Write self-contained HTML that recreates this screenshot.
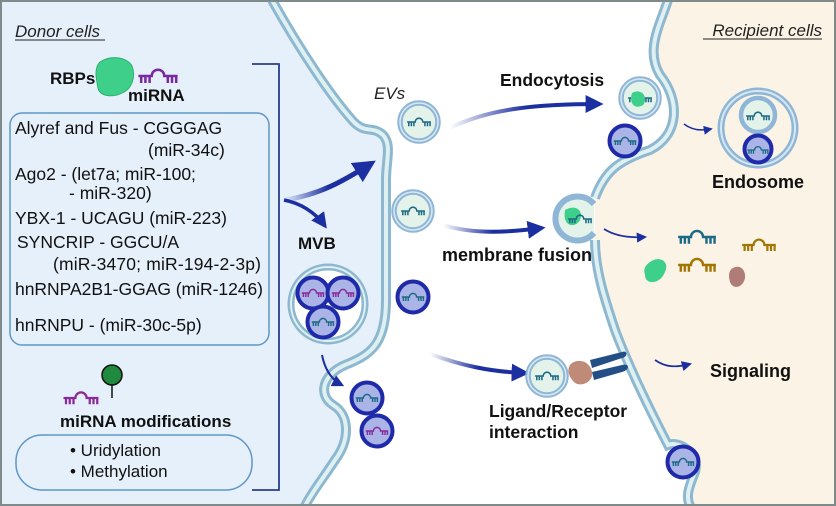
<!DOCTYPE html>
<html><head><meta charset="utf-8"><style>
html,body{margin:0;padding:0;background:#fff}
svg{display:block}
text{font-family:"Liberation Sans",sans-serif}
</style></head><body>
<svg width="836" height="506" viewBox="0 0 836 506" xmlns="http://www.w3.org/2000/svg">
<defs>
<linearGradient id="ga" x1="0" x2="1" y1="0" y2="0"><stop offset="0" stop-color="#1c2fa0" stop-opacity="0"/><stop offset="0.5" stop-color="#1c2fa0"/><stop offset="1" stop-color="#1c2fa0"/></linearGradient>
<marker id="ah" viewBox="0 0 10 10" refX="8" refY="5" markerWidth="4.5" markerHeight="4.5" orient="auto"><path d="M0,0 L10,5 L0,10 z" fill="#1c2fa0"/></marker>
<marker id="as" viewBox="0 0 10 10" refX="8" refY="5" markerWidth="6" markerHeight="6" orient="auto"><path d="M0,0 L10,5 L0,10 z" fill="#1c2fa0"/></marker>
<g id="mir"><path d="M-14,0 H-4.5 A4.5,4.5 0 0 1 4.5,0 H14 M-12,0 v5 M-9,0 v5 M-6,0 v5 M7,0 v5 M10,0 v5 M13,0 v5" fill="none" stroke-width="1.8"/></g>
<g id="ev"><circle r="19" fill="#e3f3ea" stroke="#8fb6d6" stroke-width="5.5"/><circle r="19" fill="none" stroke="#d7e8f2" stroke-width="1.5"/><use href="#mir" stroke="#1c6a86" transform="scale(0.85)"/></g>
<g id="dv"><circle r="15.5" fill="#aab4e6" stroke="#1f2aa8" stroke-width="4"/><use href="#mir" stroke="#1c6a86" transform="scale(0.8)"/></g>
<g id="dvp"><circle r="15.5" fill="#aab4e6" stroke="#1f2aa8" stroke-width="4"/><use href="#mir" stroke="#8a2a9a" transform="scale(0.8)"/></g>
</defs>
<rect width="836" height="506" fill="#fff"/>
<path d="M272,0 C300,50 330,95 352,120 C365,135 372,125 383,135 C392,145 386,160 386,180 L386,300 C386,345 370,355 345,365 C322,375 318,395 333,405 C350,415 350,440 335,460 C322,480 312,492 305,506 L0,506 L0,0 Z" fill="#e6f0fb"/>
<path d="M272,0 C300,50 330,95 352,120 C365,135 372,125 383,135 C392,145 386,160 386,180 L386,300 C386,345 370,355 345,365 C322,375 318,395 333,405 C350,415 350,440 335,460 C322,480 312,492 305,506" fill="none" stroke="#8db8cf" stroke-width="10"/>
<path d="M272,0 C300,50 330,95 352,120 C365,135 372,125 383,135 C392,145 386,160 386,180 L386,300 C386,345 370,355 345,365 C322,375 318,395 333,405 C350,415 350,440 335,460 C322,480 312,492 305,506" fill="none" stroke="#def0f2" stroke-width="4"/>
<path d="M668,0 C660,25 645,50 660,75 C680,100 680,135 650,150 C620,160 605,170 595,198 L595,240 C595,270 605,300 615,330 C630,370 655,420 668,445 C680,440 700,455 695,472 C690,485 685,495 690,506 L836,506 L836,0 Z" fill="#fbf3e6"/>
<path d="M668,0 C660,25 645,50 660,75 C680,100 680,135 650,150 C620,160 605,170 595,198 M595,240 C595,270 605,300 615,330 C630,370 655,420 668,445 C680,440 700,455 695,472 C690,485 685,495 690,506" fill="none" stroke="#8db8cf" stroke-width="10"/>
<path d="M668,0 C660,25 645,50 660,75 C680,100 680,135 650,150 C620,160 605,170 595,198 M595,240 C595,270 605,300 615,330 C630,370 655,420 668,445 C680,440 700,455 695,472 C690,485 685,495 690,506" fill="none" stroke="#def0f2" stroke-width="4"/>
<rect x="1" y="1" width="834" height="504" fill="none" stroke="#7f8a8a" stroke-width="2"/>

<text x="15" y="37" font-size="17" font-style="italic" fill="#222">Donor cells</text>
<line x1="15" y1="40" x2="105" y2="40" stroke="#222" stroke-width="1"/>
<text x="822" y="36" font-size="17" font-style="italic" fill="#222" text-anchor="end">Recipient cells</text>
<line x1="703" y1="39" x2="822" y2="39" stroke="#222" stroke-width="1"/>

<text x="50" y="84" font-size="17" font-weight="bold" fill="#111">RBPs</text>
<path d="M100,62 C112,54 128,58 132,66 C136,76 132,88 124,92 C114,98 100,97 98,88 C96,78 94,68 100,62 Z" fill="#3ecf8a" stroke="#2bb070" stroke-width="1"/>
<g transform="translate(158,76) scale(1.4)"><use href="#mir" stroke="#7a2aa0"/></g>
<text x="128" y="101" font-size="17" font-weight="bold" fill="#111">miRNA</text>

<rect x="10" y="113" width="259" height="232" rx="12" fill="#e6f0fb" stroke="#5e97c4" stroke-width="1.5"/>
<g font-size="17.5" fill="#111">
<text x="15" y="134">Alyref and Fus - CGGGAG</text>
<text x="148" y="156">(miR-34c)</text>
<text x="15" y="180">Ago2 - (let7a; miR-100;</text>
<text x="69" y="199">- miR-320)</text>
<text x="15" y="224">YBX-1 - UCAGU (miR-223)</text>
<text x="17" y="248">SYNCRIP - GGCU/A</text>
<text x="53" y="270" textLength="208">(miR-3470; miR-194-2-3p)</text>
<text x="15" y="295" textLength="248">hnRNPA2B1-GGAG (miR-1246)</text>
<text x="15" y="331">hnRNPU - (miR-30c-5p)</text>
</g>
<path d="M252,64 H279 V490 H252" fill="none" stroke="#2a3e8a" stroke-width="1.8"/>

<g transform="translate(81,398) scale(1.25)"><use href="#mir" stroke="#8a2a9a"/></g>
<line x1="112" y1="398" x2="112" y2="384" stroke="#111" stroke-width="1.5"/>
<circle cx="112" cy="375" r="10" fill="#1f8a3d" stroke="#111" stroke-width="1.5"/>
<text x="60" y="427" font-size="17" font-weight="bold" fill="#111">miRNA  modifications</text>
<rect x="16" y="435" width="236" height="55" rx="26" fill="#e6f0fb" stroke="#5e97c4" stroke-width="1.5"/>
<text x="70" y="456" font-size="17" fill="#111">•  Uridylation</text>
<text x="70" y="477" font-size="17" fill="#111">•  Methylation</text>

<path d="M284,200 C320,195 345,180 372,163" fill="none" stroke="url(#ga)" stroke-width="5" marker-end="url(#ah)"/>
<path d="M284,200 C300,203 315,212 325,226" fill="none" stroke="#1c2fa0" stroke-width="3.5" marker-end="url(#ah)"/>
<path d="M322,355 C325,370 332,380 342,385" fill="none" stroke="#1c2fa0" stroke-width="2" marker-end="url(#as)"/>

<text x="374" y="99" font-size="17" font-style="italic" fill="#222">EVs</text>
<text x="298" y="249" font-size="17" font-weight="bold" fill="#111">MVB</text>

<circle cx="328" cy="304" r="37" fill="#fff" stroke="#8db8cf" stroke-width="7"/>
<circle cx="328" cy="304" r="37" fill="none" stroke="#def0f2" stroke-width="2"/>
<use href="#dvp" x="313" y="293"/>
<use href="#dvp" x="343" y="293"/>
<use href="#dv" x="323" y="322"/>
<use href="#dv" x="367" y="398"/>
<use href="#dvp" x="377" y="431"/>

<use href="#ev" x="419" y="122"/>
<use href="#ev" x="413" y="211"/>
<use href="#dv" x="413" y="297"/>

<path d="M450,128 C490,108 540,104 600,104" fill="none" stroke="url(#ga)" stroke-width="4" marker-end="url(#ah)"/>
<path d="M443,225 C475,235 510,232 542,228" fill="none" stroke="url(#ga)" stroke-width="4" marker-end="url(#ah)"/>
<path d="M430,354 C460,365 490,372 526,373" fill="none" stroke="url(#ga)" stroke-width="4" marker-end="url(#ah)"/>

<text x="500" y="86" font-size="17.5" font-weight="bold" fill="#111">Endocytosis</text>
<text x="442" y="261" font-size="18" font-weight="bold" fill="#111">membrane fusion</text>
<text x="489" y="417" font-size="17.5" font-weight="bold" fill="#111">Ligand/Receptor</text>
<text x="489" y="438" font-size="17.5" font-weight="bold" fill="#111">interaction</text>

<use href="#ev" x="640" y="98"/>
<path d="M632,93 C640,88 648,95 644,104 C638,110 628,106 632,93Z" fill="#3ecf8a"/>
<use href="#dv" x="625" y="141"/>
<path d="M684,124 C692,130 700,131 711,129" fill="none" stroke="#1c2fa0" stroke-width="1.5" marker-end="url(#as)"/>
<circle cx="758" cy="128" r="37" fill="#fbf3e6" stroke="#8fb6d6" stroke-width="7"/>
<circle cx="758" cy="128" r="37" fill="none" stroke="#d7e8f2" stroke-width="2"/>
<circle cx="758" cy="115" r="17" fill="#e3f3ea" stroke="#8fb6d6" stroke-width="4.5"/>
<g transform="translate(758,116) scale(0.85)"><use href="#mir" stroke="#1c6a86"/></g>
<circle cx="758" cy="149" r="13.5" fill="#aab4e6" stroke="#1f2aa8" stroke-width="4"/>
<g transform="translate(758,150) scale(0.75)"><use href="#mir" stroke="#1c6a86"/></g>
<text x="758" y="188" font-size="18" font-weight="bold" fill="#111" text-anchor="middle">Endosome</text>

<path d="M594,204 A22,22 0 1 0 594,233" fill="#e3f3ea" stroke="#8fb6d6" stroke-width="6"/>
<path d="M565,210 C575,204 584,210 580,220 C576,228 562,228 565,210Z" fill="#3ecf8a"/>
<g transform="translate(580,219) scale(0.85)"><use href="#mir" stroke="#1c6a86"/></g>
<path d="M604,229 C615,236 630,238 645,237" fill="none" stroke="#1c2fa0" stroke-width="1.7" marker-end="url(#as)"/>
<g transform="translate(697,237) scale(1.35)"><use href="#mir" stroke="#1c6a86"/></g>
<g transform="translate(759,245) scale(1.2)"><use href="#mir" stroke="#a27400"/></g>
<g transform="translate(697,265) scale(1.35)"><use href="#mir" stroke="#a27400"/></g>
<path d="M650,262 C660,255 670,262 665,272 C660,285 645,285 645,275 C643,268 646,265 650,262Z" fill="#3ecf8a"/>
<path d="M733,268 C740,264 746,270 745,278 C743,288 733,290 730,282 C728,275 729,270 733,268Z" fill="#b07c78"/>

<use href="#ev" x="547" y="376"/>
<path d="M572,363 C580,358 590,362 592,372 C594,382 580,388 574,382 C568,376 566,368 572,363Z" fill="#c08a78"/>
<path d="M590,360 L622,352 C628,350 628,357 622,358 L592,368Z" fill="#244f86"/>
<path d="M592,372 L622,365 C630,363 630,370 622,372 L594,380Z" fill="#244f86"/>
<path d="M655,360 C665,367 675,368 690,364" fill="none" stroke="#1c2fa0" stroke-width="1.7" marker-end="url(#as)"/>
<text x="710" y="377" font-size="18" font-weight="bold" fill="#111">Signaling</text>

<use href="#dv" x="683" y="462"/>
</svg>
</body></html>
